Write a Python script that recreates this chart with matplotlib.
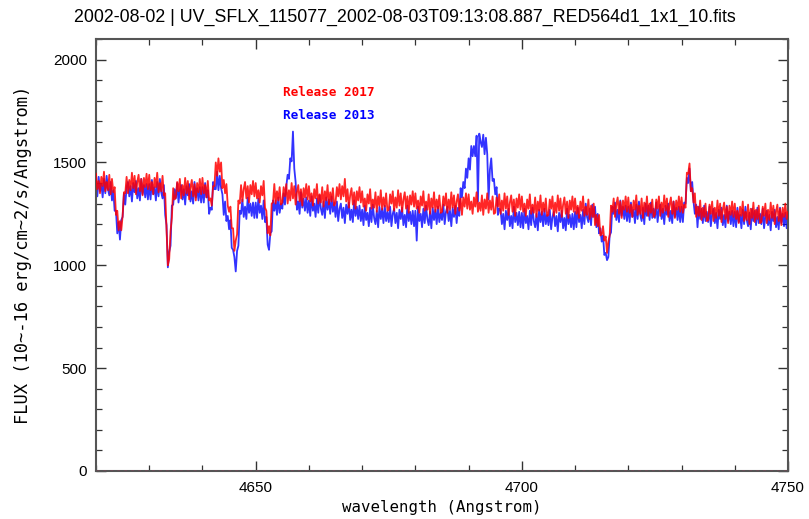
import numpy as np
import matplotlib
matplotlib.use("Agg")
import matplotlib.pyplot as plt
from matplotlib.ticker import MultipleLocator

# wavelength grid (Angstrom), 0.25 A step
wavelength = np.arange(4620.0, 4750.001, 0.25)

# Release 2017 flux (red), one row per 5 A
flux_2017 = [
    1445, 1370, 1410, 1350, 1430, 1385, 1455, 1360, 1405, 1365, 1440, 1345, 1420, 1355, 1380, 1245, 1265, 1170, 1215, 1170,  # 4620
    1240, 1355, 1350, 1430, 1350, 1415, 1365, 1450, 1375, 1435, 1345, 1405, 1440, 1360, 1420, 1340, 1425, 1380, 1445, 1370,  # 4625
    1440, 1365, 1405, 1345, 1425, 1380, 1450, 1355, 1400, 1360, 1435, 1340, 1350, 1175, 1000, 1030, 1165, 1230, 1375, 1320,  # 4630
    1330, 1405, 1360, 1420, 1325, 1390, 1340, 1425, 1350, 1410, 1320, 1380, 1415, 1335, 1395, 1315, 1400, 1355, 1420, 1345,  # 4635
    1425, 1350, 1390, 1330, 1410, 1315, 1325, 1290, 1385, 1385, 1500, 1435, 1520, 1455, 1500, 1375, 1415, 1350, 1395, 1290,  # 4640
    1260, 1285, 1180, 1180, 1070, 1120, 1150, 1315, 1300, 1390, 1310, 1370, 1405, 1325, 1385, 1305, 1390, 1345, 1410, 1335,  # 4645
    1400, 1325, 1365, 1305, 1385, 1340, 1410, 1280, 1265, 1155, 1190, 1145, 1300, 1305, 1395, 1300, 1360, 1315, 1380, 1295,  # 4650
    1305, 1380, 1335, 1395, 1300, 1365, 1315, 1400, 1325, 1385, 1295, 1355, 1390, 1310, 1370, 1290, 1375, 1330, 1395, 1320,  # 4655
    1385, 1310, 1350, 1290, 1370, 1325, 1395, 1300, 1345, 1305, 1380, 1285, 1360, 1315, 1390, 1295, 1355, 1310, 1375, 1290,  # 4660
    1305, 1380, 1335, 1395, 1320, 1385, 1335, 1420, 1310, 1370, 1280, 1340, 1375, 1295, 1355, 1275, 1360, 1315, 1380, 1305,  # 4665
    1360, 1285, 1325, 1265, 1345, 1300, 1370, 1275, 1320, 1280, 1355, 1260, 1335, 1290, 1365, 1270, 1330, 1285, 1350, 1265,  # 4670
    1270, 1345, 1300, 1360, 1265, 1330, 1280, 1365, 1290, 1350, 1260, 1320, 1355, 1275, 1335, 1255, 1340, 1295, 1360, 1285,  # 4675
    1350, 1275, 1315, 1255, 1335, 1290, 1360, 1265, 1310, 1270, 1345, 1250, 1325, 1280, 1355, 1260, 1320, 1275, 1340, 1255,  # 4680
    1260, 1335, 1290, 1350, 1255, 1320, 1270, 1355, 1280, 1340, 1250, 1310, 1345, 1265, 1325, 1245, 1330, 1285, 1350, 1275,  # 4685
    1345, 1270, 1310, 1250, 1330, 1285, 1355, 1260, 1305, 1265, 1340, 1245, 1320, 1275, 1350, 1255, 1315, 1270, 1335, 1250,  # 4690
    1255, 1330, 1285, 1345, 1250, 1315, 1265, 1350, 1275, 1335, 1245, 1305, 1340, 1260, 1320, 1240, 1325, 1280, 1345, 1270,  # 4695
    1335, 1260, 1300, 1240, 1320, 1275, 1345, 1250, 1295, 1255, 1330, 1235, 1310, 1265, 1340, 1245, 1305, 1260, 1325, 1240,  # 4700
    1245, 1320, 1275, 1335, 1240, 1305, 1255, 1340, 1265, 1325, 1235, 1295, 1330, 1250, 1310, 1230, 1315, 1270, 1335, 1260,  # 4705
    1325, 1250, 1290, 1230, 1310, 1265, 1335, 1240, 1285, 1245, 1320, 1225, 1290, 1235, 1300, 1195, 1245, 1190, 1245, 1145,  # 4710
    1150, 1190, 1120, 1140, 1060, 1115, 1145, 1290, 1260, 1325, 1235, 1295, 1330, 1250, 1310, 1230, 1315, 1270, 1335, 1260,  # 4715
    1330, 1255, 1295, 1235, 1315, 1270, 1340, 1245, 1290, 1250, 1325, 1230, 1305, 1260, 1335, 1240, 1300, 1255, 1320, 1235,  # 4720
    1245, 1320, 1275, 1335, 1240, 1305, 1255, 1340, 1265, 1325, 1235, 1295, 1330, 1250, 1310, 1230, 1315, 1270, 1335, 1260,  # 4725
    1330, 1255, 1295, 1280, 1450, 1445, 1495, 1360, 1375, 1305, 1350, 1235, 1285, 1240, 1315, 1220, 1280, 1235, 1300, 1215,  # 4730
    1220, 1295, 1250, 1310, 1215, 1280, 1230, 1315, 1240, 1300, 1210, 1270, 1305, 1225, 1285, 1205, 1290, 1245, 1310, 1235,  # 4735
    1300, 1225, 1265, 1205, 1285, 1240, 1310, 1215, 1260, 1220, 1295, 1200, 1275, 1230, 1305, 1210, 1270, 1225, 1290, 1205,  # 4740
    1210, 1285, 1240, 1300, 1205, 1270, 1220, 1305, 1230, 1290, 1200, 1260, 1295, 1215, 1275, 1195, 1280, 1235, 1300, 1225,  # 4745
    1260,                                                                                                                     # 4750
]

# Release 2013 flux (blue)
flux_2013 = [
    1410, 1335, 1430, 1360, 1395, 1330, 1420, 1350, 1435, 1370, 1340, 1405, 1315, 1365, 1265, 1265, 1155, 1210, 1125, 1220,  # 4620
    1235, 1350, 1295, 1380, 1405, 1335, 1385, 1310, 1400, 1355, 1410, 1325, 1375, 1315, 1420, 1345, 1390, 1330, 1395, 1320,  # 4625
    1395, 1320, 1415, 1345, 1380, 1315, 1405, 1335, 1420, 1355, 1325, 1390, 1245, 1195, 990, 1065, 1095, 1290, 1295, 1370,   # 4630
    1325, 1400, 1305, 1365, 1390, 1320, 1370, 1295, 1385, 1340, 1395, 1310, 1360, 1300, 1405, 1330, 1375, 1315, 1380, 1305,  # 4635
    1380, 1305, 1400, 1330, 1365, 1250, 1280, 1270, 1405, 1370, 1370, 1455, 1365, 1435, 1375, 1345, 1245, 1310, 1215, 1240,  # 4640
    1175, 1220, 1085, 1075, 1040, 970, 1070, 1095, 1265, 1250, 1320, 1235, 1285, 1225, 1330, 1255, 1300, 1240, 1305, 1230,   # 4645
    1305, 1230, 1325, 1255, 1290, 1225, 1315, 1210, 1235, 1100, 1075, 1155, 1165, 1315, 1265, 1315, 1245, 1330, 1255, 1300,  # 4650
    1275, 1350, 1295, 1385, 1440, 1420, 1520, 1505, 1650, 1470, 1405, 1270, 1310, 1250, 1355, 1280, 1325, 1265, 1330, 1255,  # 4655
    1315, 1240, 1335, 1265, 1300, 1235, 1325, 1255, 1340, 1275, 1245, 1310, 1230, 1330, 1270, 1320, 1250, 1335, 1260, 1305,  # 4660
    1235, 1310, 1215, 1275, 1300, 1230, 1280, 1205, 1295, 1250, 1305, 1220, 1270, 1210, 1315, 1240, 1285, 1225, 1290, 1215,  # 4665
    1270, 1195, 1290, 1220, 1255, 1190, 1280, 1210, 1295, 1230, 1200, 1265, 1185, 1285, 1225, 1275, 1205, 1290, 1215, 1260,  # 4670
    1210, 1285, 1190, 1250, 1275, 1205, 1255, 1180, 1270, 1225, 1280, 1195, 1245, 1185, 1290, 1215, 1260, 1200, 1265, 1190,  # 4675
    1265, 1120, 1285, 1215, 1250, 1185, 1275, 1205, 1290, 1225, 1195, 1260, 1180, 1280, 1220, 1270, 1200, 1285, 1210, 1255,  # 4680
    1220, 1295, 1200, 1260, 1285, 1215, 1265, 1190, 1280, 1235, 1290, 1205, 1280, 1240, 1375, 1330, 1405, 1375, 1470, 1425,  # 4685
    1520, 1465, 1580, 1530, 1580, 1530, 1630, 1310, 1640, 1600, 1575, 1635, 1540, 1620, 1540, 1320, 1465, 1520, 1410, 1420,  # 4690
    1345, 1380, 1245, 1275, 1270, 1200, 1250, 1175, 1265, 1220, 1275, 1190, 1240, 1180, 1285, 1210, 1255, 1195, 1260, 1185,  # 4695
    1255, 1180, 1275, 1205, 1240, 1175, 1265, 1195, 1280, 1215, 1185, 1250, 1170, 1270, 1210, 1260, 1190, 1275, 1200, 1245,  # 4700
    1195, 1270, 1175, 1235, 1260, 1190, 1240, 1165, 1255, 1210, 1265, 1180, 1230, 1170, 1275, 1200, 1245, 1185, 1250, 1175,  # 4705
    1260, 1185, 1280, 1210, 1245, 1180, 1270, 1200, 1300, 1235, 1210, 1275, 1195, 1295, 1235, 1285, 1185, 1250, 1155, 1180,  # 4710
    1115, 1145, 1050, 1060, 1025, 1040, 1145, 1160, 1285, 1250, 1305, 1220, 1270, 1210, 1315, 1240, 1285, 1225, 1290, 1215,  # 4715
    1285, 1210, 1305, 1235, 1270, 1205, 1295, 1225, 1310, 1245, 1215, 1280, 1200, 1300, 1240, 1290, 1220, 1305, 1230, 1275,  # 4720
    1230, 1305, 1210, 1270, 1295, 1225, 1275, 1200, 1290, 1245, 1300, 1215, 1265, 1205, 1310, 1235, 1280, 1220, 1285, 1210,  # 4725
    1285, 1210, 1305, 1300, 1425, 1400, 1470, 1360, 1405, 1310, 1250, 1295, 1185, 1285, 1225, 1275, 1205, 1290, 1215, 1260,  # 4730
    1210, 1285, 1190, 1250, 1275, 1205, 1255, 1180, 1270, 1225, 1280, 1195, 1245, 1185, 1290, 1215, 1260, 1200, 1265, 1190,  # 4735
    1260, 1185, 1280, 1210, 1245, 1180, 1270, 1200, 1285, 1220, 1190, 1255, 1175, 1275, 1215, 1265, 1195, 1280, 1205, 1250,  # 4740
    1200, 1275, 1180, 1240, 1265, 1195, 1245, 1170, 1260, 1215, 1270, 1185, 1235, 1175, 1280, 1205, 1250, 1190, 1255, 1180,  # 4745
    1235,                                                                                                                     # 4750
]

labels = ["Release 2017", "Release 2013"]
colors = ["#ff0000", "#0000ff"]

title = "2002-08-02 | UV_SFLX_115077_2002-08-03T09:13:08.887_RED564d1_1x1_10.fits"

fig = plt.figure(figsize=(8.09, 5.19), dpi=100)
ax = fig.add_axes([96/809, 48/519, 692/809, 432/519])

ax.plot(wavelength, flux_2013, color=colors[1], lw=1.3, alpha=0.8, zorder=2)
ax.plot(wavelength, flux_2017, color=colors[0], lw=1.3, alpha=0.85, zorder=3)
ax.axhline(0, color="#c03060", ls=(0, (2, 3)), lw=1.0, zorder=4)

ax.set_xlim(4620, 4750)
ax.set_ylim(0, 2100)
ax.xaxis.set_major_locator(MultipleLocator(50))
ax.xaxis.set_minor_locator(MultipleLocator(10))
ax.yaxis.set_major_locator(MultipleLocator(500))
ax.yaxis.set_minor_locator(MultipleLocator(100))
ax.tick_params(which="both", direction="in", top=True, right=True, colors="#333333",
               labelcolor="black", labelsize=11)
ax.tick_params(which="major", length=7, width=1.0)
ax.tick_params(which="minor", length=4.3, width=0.9)
ax.tick_params(axis="y", which="major", pad=6.5)
ax.tick_params(axis="x", which="major", pad=7)
for lab in ax.get_xticklabels() + ax.get_yticklabels():
    lab.set_family(["Liberation Sans", "DejaVu Sans"])
for sp in ax.spines.values():
    sp.set_color("#555555")
    sp.set_linewidth(1.5)

ax.set_xlabel("wavelength (Angstrom)", family="DejaVu Sans Mono", fontsize=11.3, labelpad=4)
ax.set_ylabel("FLUX (10~-16 erg/cm~2/s/Angstrom)", family="DejaVu Sans Mono", fontsize=12.3, labelpad=15)

ax.text(0.27, 0.875, labels[0], color=colors[0], transform=ax.transAxes, ha="left", va="center",
        family="DejaVu Sans Mono", fontweight="bold", fontsize=9.1)
ax.text(0.27, 0.822, labels[1], color=colors[1], transform=ax.transAxes, ha="left", va="center",
        family="DejaVu Sans Mono", fontweight="bold", fontsize=9.1)

fig.text(0.5, 1 - 17/519, title, ha="center", va="center",
         family=["Liberation Sans", "DejaVu Sans"], fontsize=12.8)

fig.savefig("out.png", dpi=100)
